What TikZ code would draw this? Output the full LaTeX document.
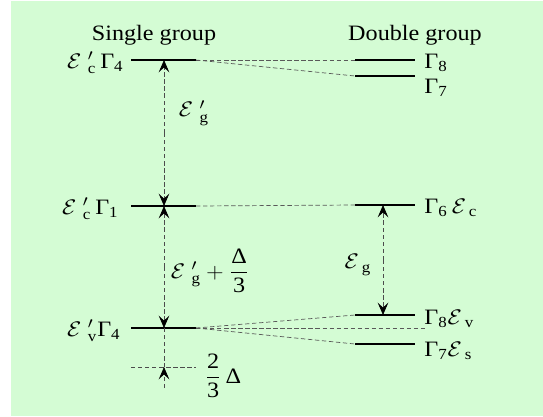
\documentclass[tikz,border=0pt]{standalone}
\usepackage{fontspec}
\usepackage{amsmath}
\usepackage{graphicx}
\setmainfont{Liberation Serif}
\usetikzlibrary{arrows.meta}
\definecolor{bggreen}{RGB}{212,252,212}
\newcommand{\wide}[1]{\scalebox{1.1}[1]{#1}}
\begin{document}
\begin{tikzpicture}[
        x=0.02cm, y=-0.02cm,
        level/.style={black, line width=1.1pt},
        link/.style={black!65, thin, dash pattern=on 2.5pt off 1.5pt},
        gap/.style={black!70, thin, dash pattern=on 2.5pt off 1.5pt},
        tip/.style={-{Stealth[length=7pt, width=6pt, inset=2.8pt, black]}},
        lbl/.style={font=\fontsize{12.5}{15}\selectfont, inner sep=0pt}
    ]
    \useasboundingbox (0,0) rectangle (543,416);
    \fill[bggreen] (11,1) rectangle (543,416);

    % ==========================================
    % Headings
    % ==========================================
    \node[lbl] (single) at (154,35) {\wide{Single group}};
    \node[lbl] (double) at (415,35) {\wide{Double group}};

    % ==========================================
    % Single group levels
    % ==========================================
    \coordinate (s4a) at (131,60);  \coordinate (s4b) at (196,60);
    \coordinate (s1a) at (131,206); \coordinate (s1b) at (196,206);
    \coordinate (v4a) at (131,328); \coordinate (v4b) at (196,328);
    \coordinate (bara) at (131,367); \coordinate (barb) at (196,367);
    \draw[level] (s4a) -- (s4b);
    \draw[level] (s1a) -- (s1b);
    \draw[level] (v4a) -- (v4b);
    \draw[gap] (bara) -- (barb); % Delta/3 below

    \node[lbl, anchor=east] (ls4) at (124,63) {\wide{$\mathcal{E}\;^{\prime}_{\text{c}}$\,Γ$_{\text{4}}$}};
    \node[lbl, anchor=east] (ls1) at (119,209) {\wide{$\mathcal{E}\;^{\prime}_{\text{c}}$\,Γ$_{\text{1}}$}};
    \node[lbl, anchor=east] (lv4) at (121,331) {\wide{$\mathcal{E}\;^{\prime}_{\text{v}}$Γ$_{\text{4}}$}};

    % ==========================================
    % Double group levels
    % ==========================================
    \coordinate (d8a) at (355,60);  \coordinate (d8b) at (415,60);
    \coordinate (d7a) at (355,76);  \coordinate (d7b) at (415,76);
    \coordinate (d6a) at (355,205); \coordinate (d6b) at (415,205);
    \coordinate (e8a) at (355,315); \coordinate (e8b) at (415,315);
    \coordinate (e7a) at (355,344); \coordinate (e7b) at (415,344);
    \coordinate (mid) at (426,328);
    \draw[level] (d8a) -- (d8b);
    \draw[level] (d7a) -- (d7b);
    \draw[level] (d6a) -- (d6b);
    \draw[level] (e8a) -- (e8b);
    \draw[level] (e7a) -- (e7b);

    \node[lbl, anchor=west] (ld8) at (424,63) {\wide{Γ$_{\text{8}}$}};
    \node[lbl, anchor=west] (ld7) at (424,88) {\wide{Γ$_{\text{7}}$}};
    \node[lbl, anchor=west] (ld6) at (424,208) {\wide{Γ$_{\text{6}}$\,$\mathcal{E}_{\;\text{c}}$}};
    \node[lbl, anchor=west] (le8) at (424,319) {\wide{Γ$_{\text{8}}$$\mathcal{E}_{\;\text{v}}$}};
    \node[lbl, anchor=west] (le7) at (424,351) {\wide{Γ$_{\text{7}}$$\mathcal{E}_{\;\text{s}}$}};

    % ==========================================
    % Correlation lines
    % ==========================================
    \draw[link] (s4b) -- (d8a);
    \draw[link] (s4b) -- (d7a);
    \draw[link] (s1b) -- (d6a);
    \draw[link] (v4b) -- (e8a);
    \draw[link] (v4b) -- (mid);
    \draw[link] (v4b) -- (e7a);

    % ==========================================
    % Gaps
    % ==========================================
    \coordinate (g1) at (164,60);  \coordinate (g2) at (164,206);
    \coordinate (g3) at (164,328); \coordinate (g4) at (164,367);
    \coordinate (g5) at (164,388);
    \coordinate (h1) at (383,205); \coordinate (h2) at (383,315);
    \draw[gap, tip] (g1 |- 0,133) -- (g1);
    \draw[gap, tip] (g1 |- 0,133) -- (g2);
    \draw[gap, tip] (g2 |- 0,267) -- (g2);
    \draw[gap, tip] (g2 |- 0,267) -- (g3);
    \draw[gap] (g3) -- (g4);
    \draw[gap, tip] (g5) -- (g4);
    \draw[gap, tip] (h1 |- 0,260) -- (h1);
    \draw[gap, tip] (h1 |- 0,260) -- (h2);

    \node[lbl] (eg1) at (194,113) {\wide{$\mathcal{E}\;^{\prime}_{\text{g}}$}};
    \node[lbl] (eg2) at (210,271) {\wide{$\mathcal{E}\;^{\prime}_{\text{g}}+\dfrac{\text{Δ}}{\text{3}}$}};
    \node[lbl] (eg) at (358,265) {\wide{$\mathcal{E}_{\;\text{g}}$}};
    \node[lbl] (del) at (223,376) {\wide{$\dfrac{\text{2}}{\text{3}}$\,Δ}};
\end{tikzpicture}
\end{document}
